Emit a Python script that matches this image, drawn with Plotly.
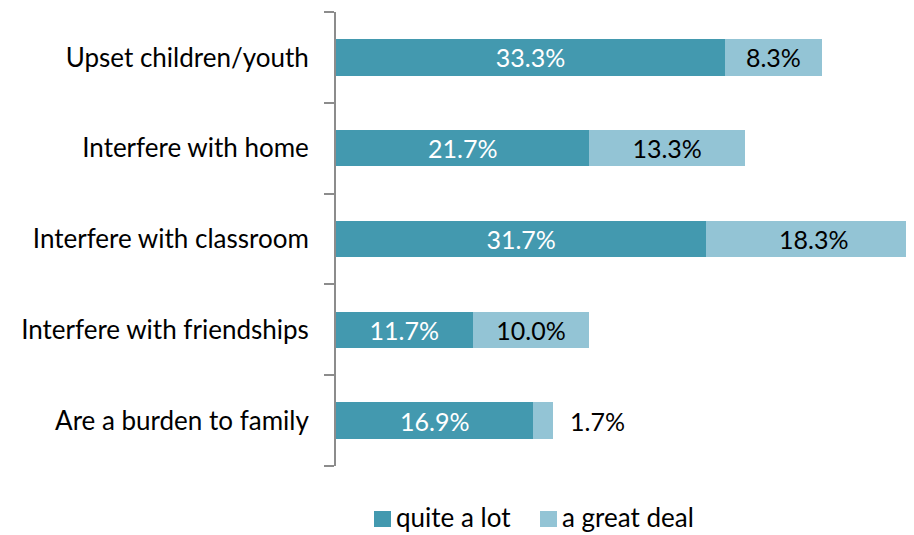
import plotly.graph_objects as go

categories = ["Upset children/youth", "Interfere with home", "Interfere with classroom",
              "Interfere with friendships", "Are a burden to family"]
quite_a_lot = [33.3, 21.7, 31.7, 11.7, 16.9]
great_deal = [8.3, 13.3, 18.3, 10.0, 1.7]
series_names = ["quite a lot", "a great deal"]

cats = categories[::-1]
q = quite_a_lot[::-1]
g = great_deal[::-1]

FONT = "Lato, 'Open Sans', sans-serif"
SIZE = 25
LSIZE = 26
dark = "#4399AF"
light = "#93C4D5"
XMAX = 48.8

# figure geometry (page offset of 8px from body margin)
W, H = 898, 527
ML, MR, MT, MB = 328, 0, 4, 69
PW, PH = W - ML - MR, H - MT - MB
OFF = 8


def px_x(page_x):
    return (page_x - OFF - ML) / PW


def px_y(page_y):
    return (H - MB - (page_y - OFF)) / PH


fig = go.Figure()
fig.add_trace(go.Bar(
    y=cats, x=q, orientation="h", name=series_names[0], showlegend=False,
    marker=dict(color=dark, line=dict(width=0)),
    text=[f"{v:.1f}%" for v in q], textposition="inside", insidetextanchor="middle",
    textfont=dict(color="white", size=SIZE, family=FONT), constraintext="none",
))

inside_text = []
annotations = []
for c, a, b in zip(cats, q, g):
    label = f"{b:.1f}%"
    if a + b > XMAX:
        inside_text.append("")
        annotations.append(dict(x=a + b / 2, y=c, text=label, showarrow=False,
                                xanchor="center", yanchor="middle",
                                font=dict(color="black", size=SIZE, family=FONT)))
    elif b < 3:
        inside_text.append("")
        annotations.append(dict(x=a + b, y=c, text=label, showarrow=False,
                                xanchor="left", yanchor="middle", xshift=15,
                                font=dict(color="black", size=SIZE, family=FONT)))
    else:
        inside_text.append(label)

fig.add_trace(go.Bar(
    y=cats, x=g, orientation="h", name=series_names[1], showlegend=False,
    marker=dict(color=light, line=dict(width=0)),
    text=inside_text, textposition="inside", insidetextanchor="middle",
    textfont=dict(color="black", size=SIZE, family=FONT), constraintext="none",
))

# manual legend (squares + labels) below the plot
shapes = []
legend_items = [(series_names[0], dark, 374), (series_names[1], light, 540)]
for name, col, x0 in legend_items:
    shapes.append(dict(type="rect", xref="paper", yref="paper",
                       x0=px_x(x0), x1=px_x(x0 + 17), y0=px_y(527), y1=px_y(511),
                       fillcolor=col, line=dict(width=0)))
    annotations.append(dict(xref="paper", yref="paper", x=px_x(x0 + 20), y=px_y(517),
                            text=name, showarrow=False, xanchor="left", yanchor="middle",
                            font=dict(color="black", size=LSIZE, family=FONT)))

fig.update_layout(
    barmode="stack", bargap=0.6,
    width=W, height=H,
    margin=dict(l=ML, r=MR, t=MT, b=MB),
    plot_bgcolor="white", paper_bgcolor="white",
    font=dict(family=FONT, size=LSIZE, color="black"),
    showlegend=False,
    annotations=annotations,
    shapes=shapes,
)
fig.update_xaxes(range=[0, XMAX], visible=False, showgrid=False, zeroline=False)
fig.update_yaxes(showline=True, linecolor="#8c8c8c", linewidth=2,
                 ticks="outside", ticklen=10, tickwidth=2, tickcolor="#8c8c8c",
                 tickson="boundaries", ticklabelstandoff=20,
                 tickfont=dict(size=LSIZE, family=FONT, color="black"), showgrid=False)

fig.write_html("out.html")
